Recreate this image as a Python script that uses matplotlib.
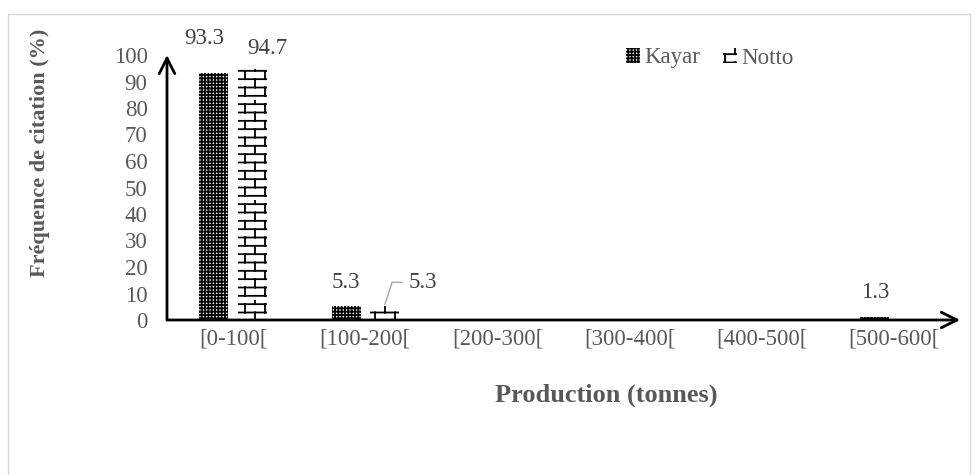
import numpy as np
import matplotlib
matplotlib.use("Agg")
import matplotlib.pyplot as plt
import matplotlib.hatch as mhatch
from matplotlib.path import Path
from matplotlib.patches import Rectangle

categories = ["[0-100[", "[100-200[", "[200-300[", "[300-400[", "[400-500[", "[500-600["]
kayar = [93.3, 5.3, 0, 0, 0, 1.3]
notto = [94.7, 5.3, 0, 0, 0, 0]
y_ticks = list(range(0, 101, 10))


class BrickHatch(mhatch.HatchPatternBase):
    """motif briques (remplace le motif '*')"""

    def __init__(self, hatch, density):
        self.rows = 12 if "*" in hatch else 0
        self.cols = 5
        self.num_vertices = (self.rows + self.rows * self.cols) * 2

    def set_vertices_and_codes(self, vertices, codes):
        k = 0
        for i in range(self.rows):
            y0 = (i + 0.5) / self.rows
            y1 = (i + 1.5) / self.rows
            vertices[k] = (0.0, y0)
            vertices[k + 1] = (1.0, y0)
            codes[k] = Path.MOVETO
            codes[k + 1] = Path.LINETO
            k += 2
            for j in range(self.cols):
                x = (j + 0.25 + 0.5 * (i % 2)) / self.cols
                vertices[k] = (x, y0)
                vertices[k + 1] = (x, min(y1, 1.0))
                codes[k] = Path.MOVETO
                codes[k + 1] = Path.LINETO
                k += 2


mhatch._hatch_types[mhatch._hatch_types.index(mhatch.Stars)] = BrickHatch

plt.rcParams["font.family"] = ["Liberation Serif", "DejaVu Serif"]
plt.rcParams["hatch.linewidth"] = 1.3

GREY = "#595959"
LABEL = "#404040"
FS = 16.5

fig = plt.figure(figsize=(9.77, 4.75), dpi=100)
ax = fig.add_axes([167 / 977, 1 - 320 / 475, 793 / 977, 265 / 475])

x = np.arange(len(categories))
w = 0.22
off = 0.145
b1 = ax.bar(x - off, kayar, w, facecolor="white", edgecolor="black",
            linewidth=0, hatch="+++++", label="Kayar")
b2 = ax.bar(x + off, notto, w, facecolor="white", edgecolor="black",
            linewidth=0, hatch="*", label="Notto")

ax.set_xlim(-0.5, len(categories) - 0.5)
ax.set_ylim(0, 100)
ax.set_yticks(y_ticks)
ax.set_xticks(x)
ax.set_xticklabels(categories)
ax.tick_params(length=0, labelsize=FS, labelcolor=GREY)
ax.tick_params(axis="y", pad=14)
ax.tick_params(axis="x", pad=6)
for s in ax.spines.values():
    s.set_visible(False)

# axes en fleches
arrow = dict(arrowstyle="->", lw=2, color="black", mutation_scale=28,
             shrinkA=0, shrinkB=0)
ax.annotate("", xy=(0, 1.0), xytext=(0, 0), xycoords="axes fraction",
            arrowprops=arrow, annotation_clip=False)
ax.annotate("", xy=(1.0, 0), xytext=(0, 0), xycoords="axes fraction",
            arrowprops=arrow, annotation_clip=False)

# etiquettes de donnees (decalages en points, comme deplaces dans Excel)
label_offsets = {("k", 0): (-7, 25), ("n", 0): (11, 15), ("n", 1): (28, 17)}
for key, vals, dx in (("k", kayar, -off), ("n", notto, off)):
    for i, v in enumerate(vals):
        if v <= 0:
            continue
        ox, oy = label_offsets.get((key, i), (0, 17))
        extra = {}
        if (key, i) == ("n", 1):
            extra["arrowprops"] = dict(arrowstyle="-", color="#a6a6a6", lw=1,
                                       shrinkA=3, shrinkB=1,
                                       connectionstyle="angle,angleA=0,angleB=72,rad=0")
        ax.annotate(f"{v}", (x[i] + dx, v), xytext=(ox, oy), textcoords="offset points",
                    ha="center", va="center", fontsize=FS, color=LABEL,
                    annotation_clip=False, **extra)

fig.text(40 / 977, 1 - 153 / 475, "Fréquence de citation (%)", rotation=90,
         ha="center", va="center", fontsize=16, fontweight="bold", color=GREY)
fig.text(606 / 977, 1 - 395 / 475, "Production (tonnes)",
         ha="center", va="center", fontsize=19, fontweight="bold", color=GREY)

leg = fig.legend(handles=[b1, b2], loc="center", bbox_to_anchor=(710 / 977, 1 - 58 / 475),
                 ncol=2, frameon=False, fontsize=FS, handlelength=0.6, handleheight=0.6,
                 handletextpad=0.2, columnspacing=1.0, labelcolor=GREY)

fig.add_artist(Rectangle((8 / 977, -0.1), 962 / 977, 1.1 - 14 / 475,
                         transform=fig.transFigure, fill=False,
                         edgecolor="#d9d9d9", lw=1))

fig.savefig("out.png", dpi=100)
